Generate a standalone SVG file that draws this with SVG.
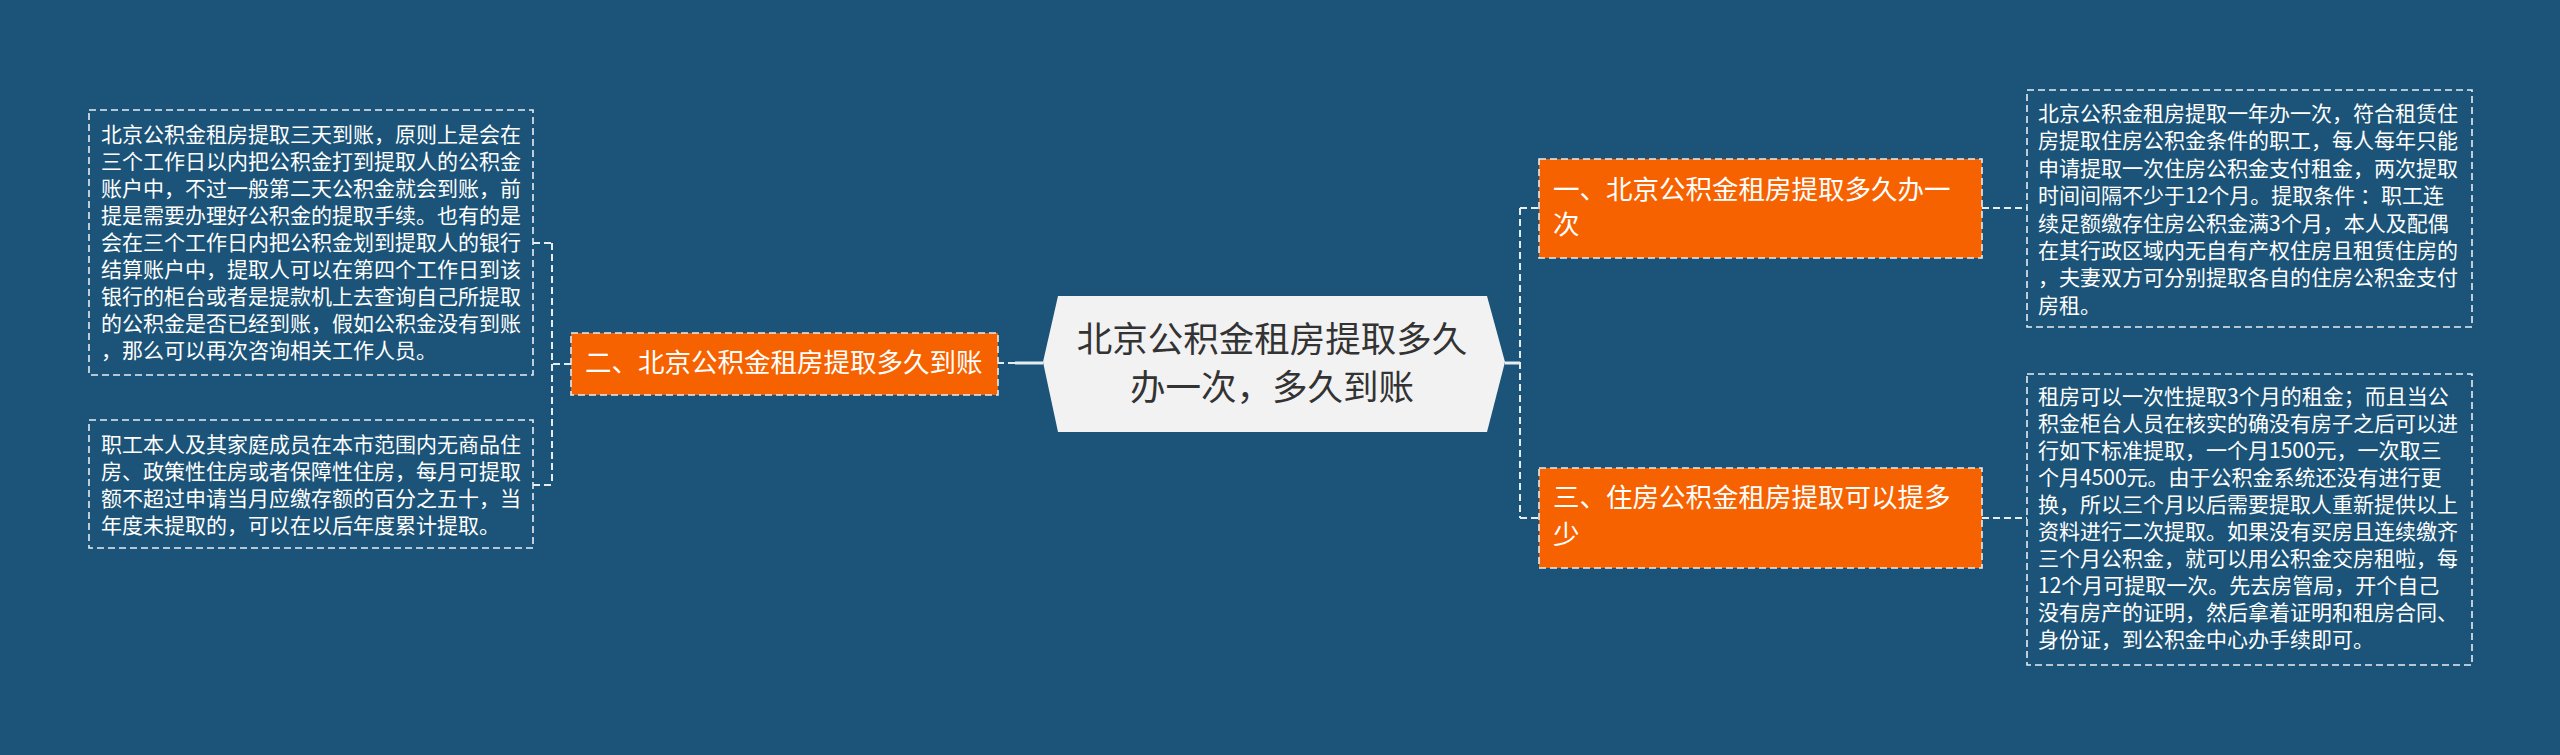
<svg xmlns="http://www.w3.org/2000/svg" width="2560" height="755" viewBox="0 0 2560 755">
<style>
.bg{fill:#1b5478}
.leaf{fill:none;stroke:#e6edf2;stroke-width:1.6;stroke-dasharray:7 4}
.topic{fill:#f76200;stroke:#e6edf2;stroke-width:1.6;stroke-dasharray:7 4}
.conn{fill:none;stroke:#e6edf2;stroke-width:2;stroke-dasharray:7 4}
.solid{fill:none;stroke:#e6edf2;stroke-width:3}
.lt{font-family:"Noto Sans CJK SC","Noto Sans",sans-serif;font-size:21px;fill:#ffffff}
.tt{font-family:"Noto Sans CJK SC","Noto Sans",sans-serif;font-size:26.5px;fill:#ffffff}
.ct{font-family:"Noto Sans CJK SC","Noto Sans",sans-serif;font-size:35.5px;fill:#333333;text-anchor:middle}
</style>
<rect class="bg" x="0" y="0" width="2560" height="755"/>
<g id="connectors">
<path class="solid" d="M1043 363 H1015"/>
<path class="conn" d="M1015 363 H998"/>
<path class="conn" d="M571 364 H552 M552 243 V485 M533 243 H552 M533 485 H552"/>
<path class="solid" d="M1505 363 H1520"/>
<path class="conn" d="M1520 208 V518 M1520 208 H1539 M1520 518 H1539"/>
<path class="conn" d="M1982 208 H2027 M1982 518 H2027"/>
</g>
<g id="center">
<polygon points="1043,362 1058,296 1487,296 1505,362 1487,432 1058,432" fill="#f2f2f2"/>
<text class="ct" x="1272" y="352">北京公积金租房提取多久</text>
<text class="ct" x="1272" y="400">办一次，多久到账</text>
</g>
<g id="topic2">
<rect class="topic" x="571" y="333" width="427" height="62"/>
<text class="tt" x="585" y="372">二、北京公积金租房提取多久到账</text>
</g>
<g id="topic1">
<rect class="topic" x="1539" y="159" width="443" height="99"/>
<text class="tt" x="1553" y="199">一、北京公积金租房提取多久办一</text>
<text class="tt" x="1553" y="234">次</text>
</g>
<g id="topic3">
<rect class="topic" x="1539" y="468" width="443" height="100"/>
<text class="tt" x="1553" y="507">三、住房公积金租房提取可以提多</text>
<text class="tt" x="1553" y="544">少</text>
</g>
<g id="leaf2a">
<rect class="leaf" x="89" y="110" width="444" height="265"/>
<text class="lt">
<tspan x="101" y="142">北京公积金租房提取三天到账，原则上是会在</tspan>
<tspan x="101" y="169">三个工作日以内把公积金打到提取人的公积金</tspan>
<tspan x="101" y="196">账户中，不过一般第二天公积金就会到账，前</tspan>
<tspan x="101" y="223">提是需要办理好公积金的提取手续。也有的是</tspan>
<tspan x="101" y="250">会在三个工作日内把公积金划到提取人的银行</tspan>
<tspan x="101" y="277">结算账户中，提取人可以在第四个工作日到该</tspan>
<tspan x="101" y="304">银行的柜台或者是提款机上去查询自己所提取</tspan>
<tspan x="101" y="331">的公积金是否已经到账，假如公积金没有到账</tspan>
<tspan x="101" y="358">，那么可以再次咨询相关工作人员。</tspan>
</text>
</g>
<g id="leaf2b">
<rect class="leaf" x="89" y="420" width="444" height="128"/>
<text class="lt">
<tspan x="101" y="452">职工本人及其家庭成员在本市范围内无商品住</tspan>
<tspan x="101" y="479">房、政策性住房或者保障性住房，每月可提取</tspan>
<tspan x="101" y="506">额不超过申请当月应缴存额的百分之五十，当</tspan>
<tspan x="101" y="533">年度未提取的，可以在以后年度累计提取。</tspan>
</text>
</g>
<g id="leaf1">
<rect class="leaf" x="2027" y="90" width="445" height="237"/>
<text class="lt">
<tspan x="2038" y="121">北京公积金租房提取一年办一次，符合租赁住</tspan>
<tspan x="2038" y="148.4">房提取住房公积金条件的职工，每人每年只能</tspan>
<tspan x="2038" y="175.8">申请提取一次住房公积金支付租金，两次提取</tspan>
<tspan x="2038" y="203.2">时间间隔不少于12个月。提取条件 ：职工连</tspan>
<tspan x="2038" y="230.6">续足额缴存住房公积金满3个月，本人及配偶</tspan>
<tspan x="2038" y="258">在其行政区域内无自有产权住房且租赁住房的</tspan>
<tspan x="2038" y="285.4">，夫妻双方可分别提取各自的住房公积金支付</tspan>
<tspan x="2038" y="312.8">房租。</tspan>
</text>
</g>
<g id="leaf3">
<rect class="leaf" x="2027" y="374" width="445" height="291"/>
<text class="lt">
<tspan x="2038" y="404">租房可以一次性提取3个月的租金；而且当公</tspan>
<tspan x="2038" y="431">积金柜台人员在核实的确没有房子之后可以进</tspan>
<tspan x="2038" y="458">行如下标准提取，一个月1500元，一次取三</tspan>
<tspan x="2038" y="485">个月4500元。由于公积金系统还没有进行更</tspan>
<tspan x="2038" y="512">换，所以三个月以后需要提取人重新提供以上</tspan>
<tspan x="2038" y="539">资料进行二次提取。如果没有买房且连续缴齐</tspan>
<tspan x="2038" y="566">三个月公积金，就可以用公积金交房租啦，每</tspan>
<tspan x="2038" y="593">12个月可提取一次。先去房管局，开个自己</tspan>
<tspan x="2038" y="620">没有房产的证明，然后拿着证明和租房合同、</tspan>
<tspan x="2038" y="647">身份证，到公积金中心办手续即可。</tspan>
</text>
</g>
</svg>
